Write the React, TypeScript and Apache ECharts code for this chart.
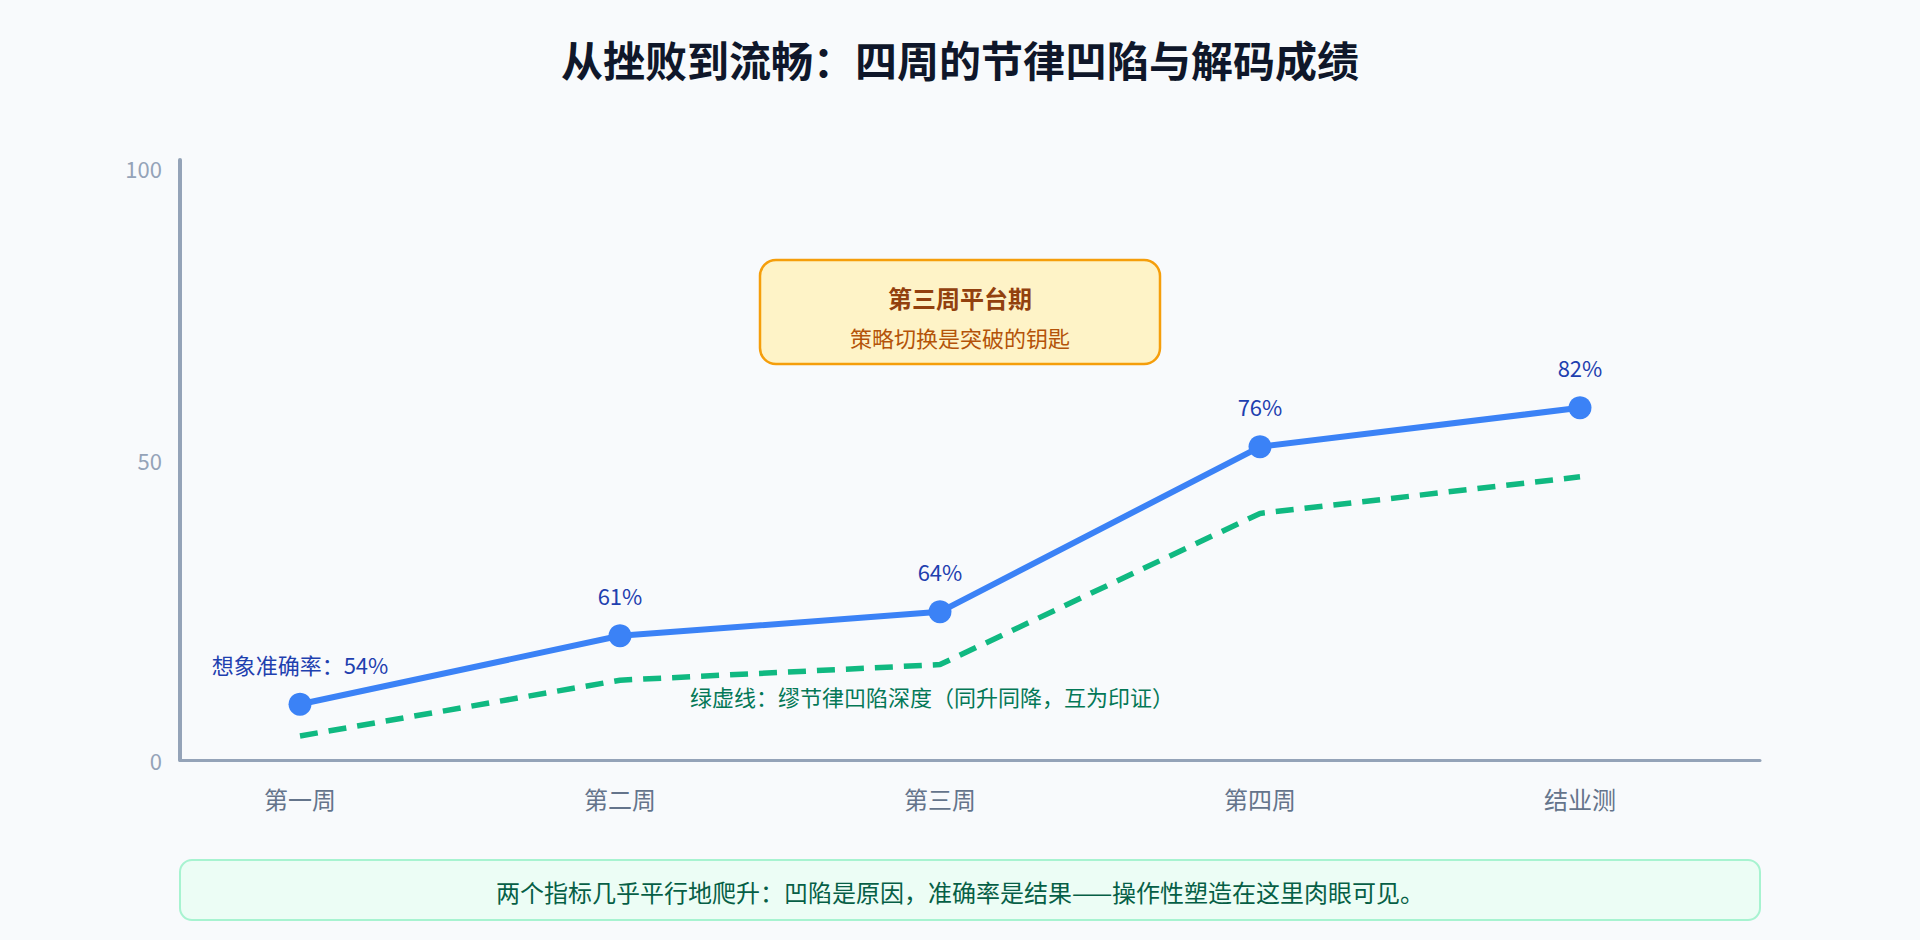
import React, { useEffect, useRef } from "react";
import * as echarts from "echarts";

const FONT = '"Noto Sans CJK SC", "Noto Sans", sans-serif';

// 数据
const weeks = ["第一周", "第二周", "第三周", "第四周", "结业测"];
const accuracyPct = [54, 61, 64, 76, 82];
// 蓝线在 0-100 轴上的位置
const accuracyPlot = [9.3, 20.7, 24.7, 52.2, 58.7];
// 绿虚线：节律凹陷深度
const dipDepth = [4.0, 13.3, 15.9, 41.1, 47.2];
const weekIdx = [0, 1, 2, 3, 4];

const App: React.FC = () => {
  const chartRef = useRef<HTMLDivElement>(null);

  useEffect(() => {
    document.body.style.margin = "0";
    const chart = echarts.init(chartRef.current!, null, { renderer: "svg" });

    const option: any = {
      animation: false,
      backgroundColor: "#f8fafc",
      textStyle: { fontFamily: FONT },
      title: {
        text: "从挫败到流畅：四周的节律凹陷与解码成绩",
        left: "center",
        top: 37,
        padding: 0,
        textStyle: { fontFamily: FONT, fontSize: 42, fontWeight: "bold", color: "#0f172a" },
      },
      grid: { left: 180, right: 160, top: 160, bottom: 180 },
      xAxis: {
        type: "value",
        min: -0.375,
        max: 4.5625,
        axisLine: { show: true, onZero: false, lineStyle: { color: "#94a3b8", width: 3 } },
        axisTick: { show: false },
        splitLine: { show: false },
        axisLabel: {
          customValues: weekIdx,
          formatter: (v: number) => weeks[v] ?? "",
          color: "#64748b",
          fontSize: 24,
          margin: 26,
          fontFamily: FONT,
        },
      },
      yAxis: {
        type: "value",
        min: 0,
        max: 100,
        interval: 50,
        axisLine: { show: true, onZero: false, lineStyle: { color: "#94a3b8", width: 4 } },
        axisTick: { show: false },
        splitLine: { show: false },
        axisLabel: {
          color: "#94a3b8",
          fontSize: 22,
          margin: 18,
          fontFamily: FONT,
          // 顶部刻度文字略向下
          formatter: (v: number) => (v === 100 ? "{top|100}" : String(v)),
          rich: {
            top: { color: "#94a3b8", fontSize: 22, fontFamily: FONT, padding: [16, 0, 0, 0] },
          },
        },
      },
      series: [
        {
          name: "节律凹陷深度",
          type: "line",
          data: weekIdx.map((i) => [i, dipDepth[i]]),
          symbol: "none",
          lineStyle: { color: "#10b981", width: 5.5, type: [18, 11] },
          z: 2,
        },
        {
          name: "想象准确率",
          type: "line",
          data: weekIdx.map((i) => [i, accuracyPlot[i]]),
          symbol: "circle",
          symbolSize: 23,
          itemStyle: { color: "#3b82f6" },
          lineStyle: { color: "#3b82f6", width: 6 },
          label: {
            show: true,
            position: "top",
            distance: 18,
            color: "#1e40af",
            fontSize: 22,
            fontFamily: FONT,
            formatter: (p: any) =>
              p.dataIndex === 0
                ? `想象准确率：${accuracyPct[0]}%`
                : `${accuracyPct[p.dataIndex]}%`,
          },
          z: 3,
        },
      ],
      graphic: [
        {
          type: "rect",
          shape: { x: 760, y: 260, width: 400, height: 104, r: 16 },
          style: { fill: "#fef3c7", stroke: "#f59e0b", lineWidth: 2.5 },
          z: 10,
        },
        {
          type: "text",
          x: 960,
          y: 297,
          style: {
            text: "第三周平台期",
            fill: "#92400e",
            font: `bold 24px ${FONT}`,
            textAlign: "center",
            textVerticalAlign: "middle",
          },
          z: 11,
        },
        {
          type: "text",
          x: 960,
          y: 337,
          style: {
            text: "策略切换是突破的钥匙",
            fill: "#b45309",
            font: `22px ${FONT}`,
            textAlign: "center",
            textVerticalAlign: "middle",
          },
          z: 11,
        },
        {
          type: "text",
          x: 932,
          y: 696,
          style: {
            text: "绿虚线：缪节律凹陷深度（同升同降，互为印证）",
            fill: "#047857",
            font: `22px ${FONT}`,
            textAlign: "center",
            textVerticalAlign: "middle",
          },
          z: 11,
        },
        {
          type: "rect",
          shape: { x: 180, y: 860, width: 1580, height: 60, r: 12 },
          style: { fill: "#ecfdf5", stroke: "#a7f3d0", lineWidth: 2 },
          z: 10,
        },
        {
          type: "text",
          x: 960,
          y: 891,
          style: {
            text: "两个指标几乎平行地爬升：凹陷是原因，准确率是结果——操作性塑造在这里肉眼可见。",
            fill: "#065f46",
            font: `24px ${FONT}`,
            textAlign: "center",
            textVerticalAlign: "middle",
          },
          z: 11,
        },
      ],
    };

    chart.setOption(option);
    return () => {
      chart.dispose();
    };
  }, []);

  return <div ref={chartRef} style={{ width: 1920, height: 940 }}></div>;
};

export default App;
